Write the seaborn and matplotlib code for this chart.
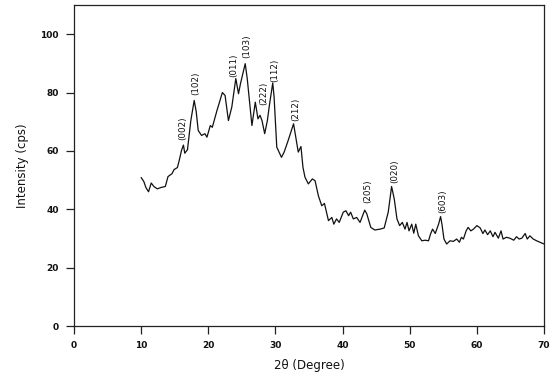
import matplotlib
matplotlib.use("Agg")
import matplotlib.pyplot as plt
import seaborn as sns
import pandas as pd

# XRD scan: diffraction angle (2θ, degrees) and intensity (cps)
two_theta = [
    10.0, 10.4, 10.7, 11.1, 11.5, 11.9, 12.4, 13.0, 13.6, 14.0,
    14.6, 14.9, 15.4, 15.7, 16.0, 16.3, 16.5, 16.9, 17.4, 17.9,
    18.2, 18.5, 19.0, 19.5, 19.8, 20.3, 20.6, 21.3, 22.1, 22.5,
    23.0, 23.5, 24.1, 24.5, 24.8, 25.5, 25.8, 26.5, 27.0, 27.4,
    27.7, 28.0, 28.4, 28.8, 29.1, 29.6, 29.8, 30.2, 30.9, 31.3,
    31.9, 32.7, 33.2, 33.4, 33.8, 34.1, 34.4, 34.9, 35.5, 35.9,
    36.4, 36.9, 37.3, 37.9, 38.4, 38.7, 39.1, 39.5, 40.1, 40.5,
    40.9, 41.2, 41.6, 42.1, 42.6, 43.3, 43.6, 44.2, 44.8, 45.6,
    46.2, 46.8, 47.3, 47.7, 48.1, 48.5, 48.9, 49.3, 49.6, 49.9,
    50.3, 50.6, 50.9, 51.3, 51.8, 52.3, 52.8, 53.1, 53.4, 53.8,
    54.3, 54.6, 54.8, 55.1, 55.5, 56.0, 56.5, 57.0, 57.4, 57.7,
    58.0, 58.4, 58.7, 59.1, 59.5, 60.0, 60.5, 60.9, 61.2, 61.6,
    62.0, 62.4, 62.7, 63.2, 63.6, 63.9, 64.4, 64.9, 65.5, 65.9,
    66.3, 66.7, 67.2, 67.5, 67.9, 68.4, 68.9, 69.4, 70.0,
]
intensity = [
    50.9, 49.5, 47.5, 46.0, 49.0, 47.8, 47.0, 47.5, 47.8, 51.2,
    52.2, 53.6, 54.3, 57.0, 60.1, 62.0, 59.2, 60.4, 70.4, 77.3,
    73.5, 67.0, 65.3, 65.9, 64.7, 68.7, 68.1, 73.9, 80.0, 79.0,
    70.4, 75.0, 84.8, 79.6, 83.1, 89.9, 84.8, 68.7, 76.7, 71.0,
    72.2, 70.4, 65.9, 70.4, 75.6, 83.3, 78.5, 61.3, 57.8, 59.6,
    63.6, 69.3, 62.4, 59.6, 61.5, 54.4, 51.0, 48.7, 50.4, 49.8,
    44.6, 41.2, 42.0, 36.1, 37.2, 34.9, 36.7, 35.5, 39.0, 39.5,
    37.8, 39.0, 36.7, 37.2, 35.5, 39.7, 38.5, 33.8, 32.9, 33.2,
    33.6, 39.0, 47.8, 43.5, 36.7, 34.4, 35.5, 33.2, 35.5, 32.6,
    34.9, 31.8, 34.9, 30.9, 29.2, 29.4, 29.2, 31.5, 33.2, 31.7,
    34.9, 37.5, 34.9, 29.8, 28.1, 29.2, 29.0, 29.8, 28.7, 30.4,
    29.8, 32.6, 33.8, 32.6, 33.2, 34.4, 33.6, 31.7, 32.9, 31.3,
    32.6, 30.6, 32.1, 30.1, 32.6, 29.8, 30.4, 30.1, 29.4, 30.6,
    29.8, 30.1, 31.7, 29.8, 30.9, 29.8, 29.2, 28.7, 28.1,
]

# Miller-index annotations and where they sit above their peaks
peak_labels = ["(002)", "(102)", "(011)", "(103)", "(222)", "(112)",
               "(212)", "(205)", "(020)", "(603)"]
label_x = [16.2, 18.1, 23.8, 25.7, 28.2, 29.9, 33.0, 43.8, 47.7, 54.9]
label_y = [63.6, 79.0, 85.2, 91.8, 75.6, 83.5, 70.4, 42.3, 49.1, 38.8]

x_ticks = [0, 10, 20, 30, 40, 50, 60, 70]
y_ticks = [0, 20, 40, 60, 80, 100]

df = pd.DataFrame({"two_theta": two_theta, "intensity": intensity})

sns.set_theme(style="white")
plt.rcParams["font.family"] = ["DejaVu Sans"]

fig = plt.figure(figsize=(5.52, 3.79), dpi=100)
ax = fig.add_axes([74 / 552, 53 / 379, 470 / 552, 321 / 379])

sns.lineplot(data=df, x="two_theta", y="intensity", ax=ax,
             color="#111111", linewidth=0.9, estimator=None, sort=False)

for txt, lx, ly in zip(peak_labels, label_x, label_y):
    ax.text(lx, ly, txt, rotation=90, ha="center", va="bottom",
            fontsize=6.3, color="#111111")

ax.set_xlim(0, 70)
ax.set_ylim(0, 110)
ax.set_xticks(x_ticks)
ax.set_yticks(y_ticks)
ax.set_xticklabels([str(v) for v in x_ticks], fontsize=6.5,
                   fontweight="bold")
ax.set_yticklabels([str(v) for v in y_ticks], fontsize=6.5,
                   fontweight="bold")
ax.tick_params(axis="both", direction="out", length=6, width=0.9,
               color="#222222", labelcolor="#111111", left=True,
               bottom=True)
ax.tick_params(axis="x", pad=5)
ax.tick_params(axis="y", pad=5)

for side in ["left", "right", "top", "bottom"]:
    ax.spines[side].set_visible(True)
    ax.spines[side].set_color("#222222")
    ax.spines[side].set_linewidth(0.9)

ax.set_xlabel("2θ (Degree)", fontsize=8.5, color="#111111", labelpad=6)
ax.set_ylabel("Intensity (cps)", fontsize=8.5, color="#111111",
              labelpad=8)
ax.grid(False)

fig.savefig("out.png", dpi=100, facecolor="white")
